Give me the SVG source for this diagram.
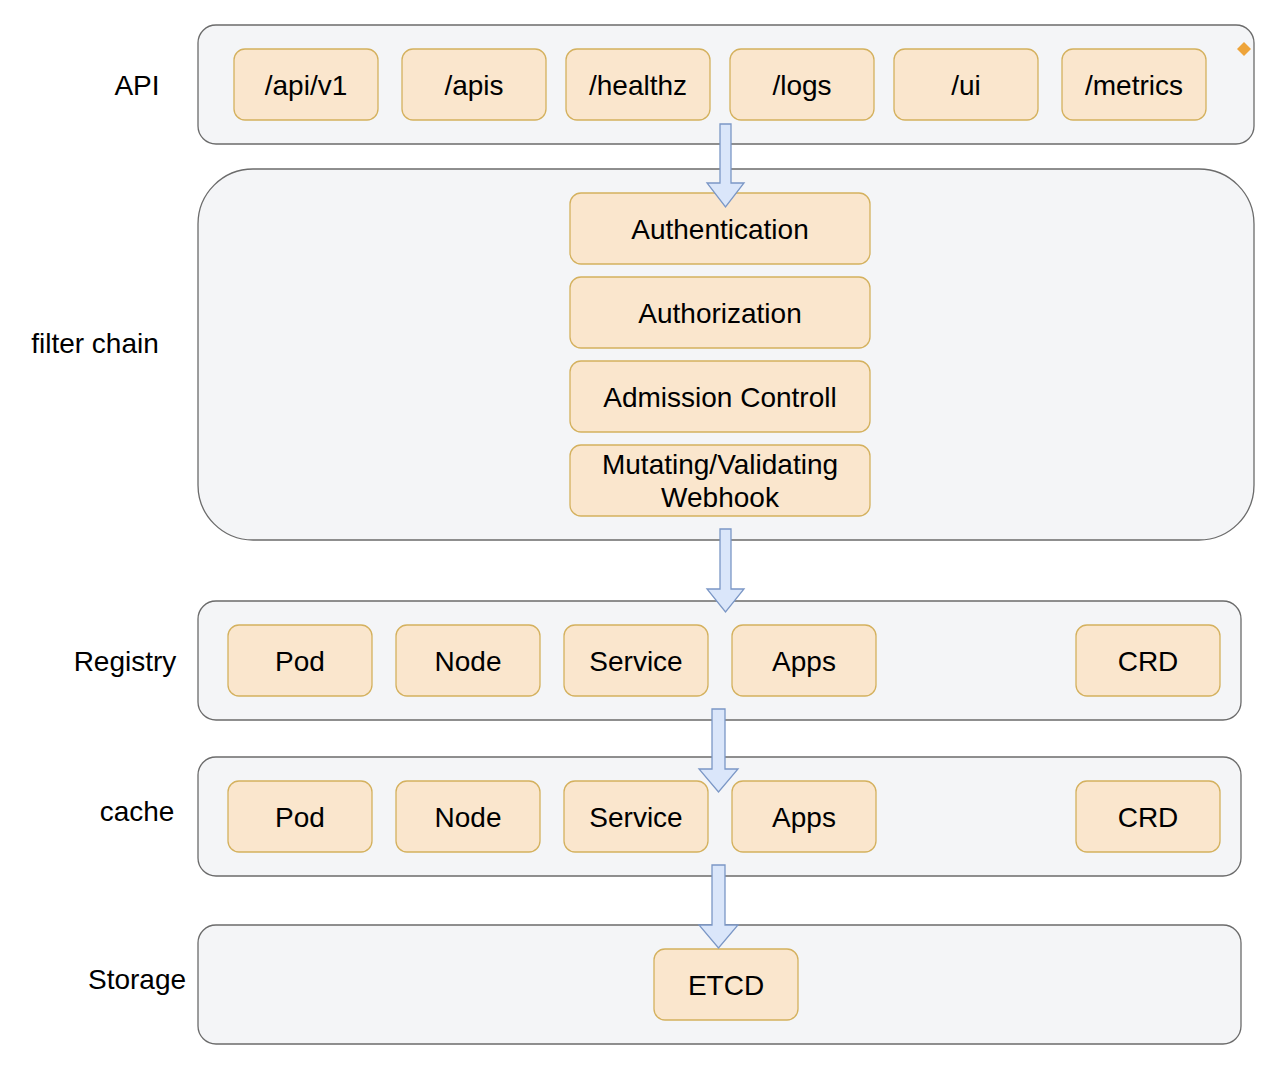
<svg xmlns="http://www.w3.org/2000/svg" width="1286" height="1069" viewBox="0 0 1286 1069">
<style>
.c{fill:#f4f5f7;stroke:#6b6b6b;stroke-width:1.3}
.n{fill:#fae6cd;stroke:#d4b15e;stroke-width:1.3}
.t{font-family:"Liberation Sans",Arial,sans-serif;font-size:28px;fill:#000;text-anchor:middle}
.a{fill:#dae6fa;stroke:#7b97c6;stroke-width:1.3;stroke-linejoin:miter}
</style>
<rect width="1286" height="1069" fill="#fff"/>
<g id="api">
<rect class="c" x="198" y="25" width="1056" height="119" rx="18"/>
<text class="t" x="137" y="95">API</text>
<path d="M1244 42 L1251 49 L1244 56 L1237 49 Z" fill="#eea43a"/>
</g>
<g id="api-v1"><rect class="n" x="234" y="49" width="144" height="71" rx="11"/><text class="t" x="306" y="95">/api/v1</text></g>
<g id="apis"><rect class="n" x="402" y="49" width="144" height="71" rx="11"/><text class="t" x="474" y="95">/apis</text></g>
<g id="healthz"><rect class="n" x="566" y="49" width="144" height="71" rx="11"/><text class="t" x="638" y="95">/healthz</text></g>
<g id="logs"><rect class="n" x="730" y="49" width="144" height="71" rx="11"/><text class="t" x="802" y="95">/logs</text></g>
<g id="ui"><rect class="n" x="894" y="49" width="144" height="71" rx="11"/><text class="t" x="966" y="95">/ui</text></g>
<g id="metrics"><rect class="n" x="1062" y="49" width="144" height="71" rx="11"/><text class="t" x="1134" y="95">/metrics</text></g>

<g id="filter-chain">
<rect class="c" x="198" y="169" width="1056" height="371" rx="55"/>
<text class="t" x="95" y="353">filter chain</text>
</g>
<g id="authentication"><rect class="n" x="570" y="193" width="300" height="71" rx="11"/><text class="t" x="720" y="239">Authentication</text></g>
<g id="authorization"><rect class="n" x="570" y="277" width="300" height="71" rx="11"/><text class="t" x="720" y="323">Authorization</text></g>
<g id="admission"><rect class="n" x="570" y="361" width="300" height="71" rx="11"/><text class="t" x="720" y="407">Admission Controll</text></g>
<g id="webhook"><rect class="n" x="570" y="445" width="300" height="71" rx="11"/><text class="t" x="720" y="474">Mutating/Validating</text><text class="t" x="720" y="507">Webhook</text></g>

<g id="registry">
<rect class="c" x="198" y="601" width="1043" height="119" rx="18"/>
<text class="t" x="125" y="671">Registry</text>
</g>
<g id="reg-pod"><rect class="n" x="228" y="625" width="144" height="71" rx="11"/><text class="t" x="300" y="671">Pod</text></g>
<g id="reg-node"><rect class="n" x="396" y="625" width="144" height="71" rx="11"/><text class="t" x="468" y="671">Node</text></g>
<g id="reg-service"><rect class="n" x="564" y="625" width="144" height="71" rx="11"/><text class="t" x="636" y="671">Service</text></g>
<g id="reg-apps"><rect class="n" x="732" y="625" width="144" height="71" rx="11"/><text class="t" x="804" y="671">Apps</text></g>
<g id="reg-crd"><rect class="n" x="1076" y="625" width="144" height="71" rx="11"/><text class="t" x="1148" y="671">CRD</text></g>

<g id="cache">
<rect class="c" x="198" y="757" width="1043" height="119" rx="18"/>
<text class="t" x="137" y="821">cache</text>
</g>
<g id="cache-pod"><rect class="n" x="228" y="781" width="144" height="71" rx="11"/><text class="t" x="300" y="827">Pod</text></g>
<g id="cache-node"><rect class="n" x="396" y="781" width="144" height="71" rx="11"/><text class="t" x="468" y="827">Node</text></g>
<g id="cache-service"><rect class="n" x="564" y="781" width="144" height="71" rx="11"/><text class="t" x="636" y="827">Service</text></g>
<g id="cache-apps"><rect class="n" x="732" y="781" width="144" height="71" rx="11"/><text class="t" x="804" y="827">Apps</text></g>
<g id="cache-crd"><rect class="n" x="1076" y="781" width="144" height="71" rx="11"/><text class="t" x="1148" y="827">CRD</text></g>

<g id="storage">
<rect class="c" x="198" y="925" width="1043" height="119" rx="18"/>
<text class="t" x="137" y="989">Storage</text>
</g>
<g id="etcd"><rect class="n" x="654" y="949" width="144" height="71" rx="11"/><text class="t" x="726" y="995">ETCD</text></g>

<g id="connectors">
<path class="a" d="M720 124 H731 V183 H744 L725.5 207 L707 183 H720 Z"/>
<path class="a" d="M720 529 H731 V589 H744 L725.5 612 L707 589 H720 Z"/>
<path class="a" d="M712 709 H725 V769 H738 L718.5 792 L699 769 H712 Z"/>
<path class="a" d="M712 865 H725 V925 H738 L718.5 948 L699 925 H712 Z"/>
</g>
</svg>
